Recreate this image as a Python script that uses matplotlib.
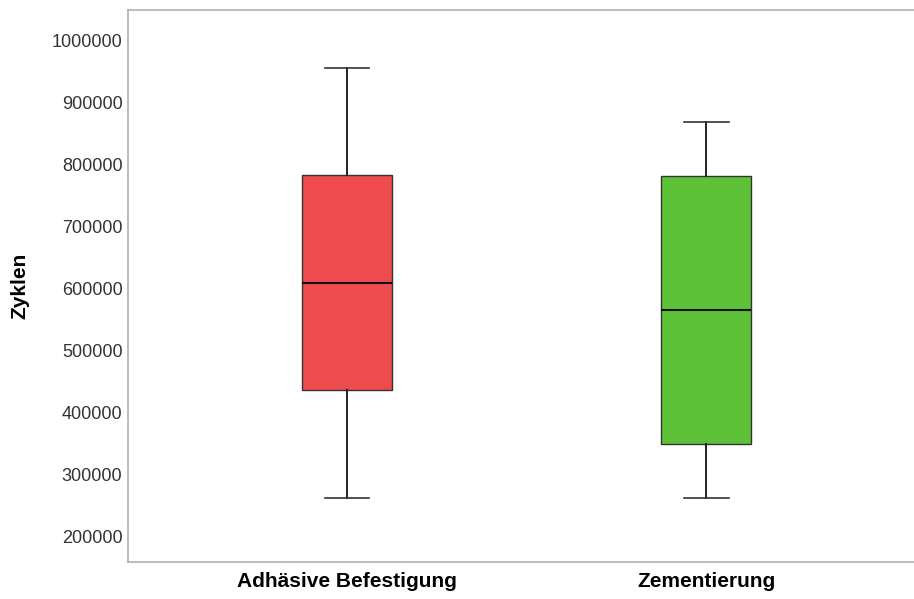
import matplotlib
matplotlib.use("Agg")
import matplotlib.pyplot as plt

plt.rcParams['font.family'] = ['Liberation Sans', 'DejaVu Sans']

categories = ["Adhäsive Befestigung", "Zementierung"]
whislo = [263500, 263000]
q1 = [436300, 349800]
med = [608600, 565600]
q3 = [782600, 781500]
whishi = [954900, 868400]
colors = ["#EE4B4D", "#5EC238"]
yticks = [200000, 300000, 400000, 500000, 600000, 700000, 800000, 900000, 1000000]

fig = plt.figure(figsize=(9.14, 5.99), dpi=100)
ax = fig.add_axes([128/914, 1 - 562/599, 1 - 128/914, (562 - 9.5)/599])

stats = []
for i, c in enumerate(categories):
    stats.append(dict(label=c, whislo=whislo[i], q1=q1[i], med=med[i], q3=q3[i], whishi=whishi[i], fliers=[]))

bp = ax.bxp(stats, positions=[1, 2], widths=0.25, patch_artist=True, showfliers=False,
            boxprops=dict(edgecolor="#333333", linewidth=1.0),
            medianprops=dict(color="#111111", linewidth=1.5),
            whiskerprops=dict(color="#222222", linewidth=1.4),
            capprops=dict(color="#333333", linewidth=1.2),
            capwidths=0.125)
for patch, col in zip(bp['boxes'], colors):
    patch.set_facecolor(col)

ax.set_xlim(0.39, 2.579)
ax.set_ylim(159740, 1049400)
ax.set_yticks(yticks)
ax.set_yticklabels([str(v) for v in yticks])
ax.tick_params(axis='y', length=0, pad=4, labelsize=13, labelcolor="#333333")
ax.tick_params(axis='x', length=0, pad=7, labelsize=15)
for lab in ax.get_xticklabels():
    lab.set_fontweight('bold')
ax.set_ylabel("Zyklen", fontsize=15, fontweight='bold', labelpad=16)

for s in ['left', 'top', 'bottom']:
    ax.spines[s].set_color("#b0b0b0")
    ax.spines[s].set_linewidth(1.2)
ax.spines['right'].set_visible(False)

fig.savefig("out.png", dpi=100)
